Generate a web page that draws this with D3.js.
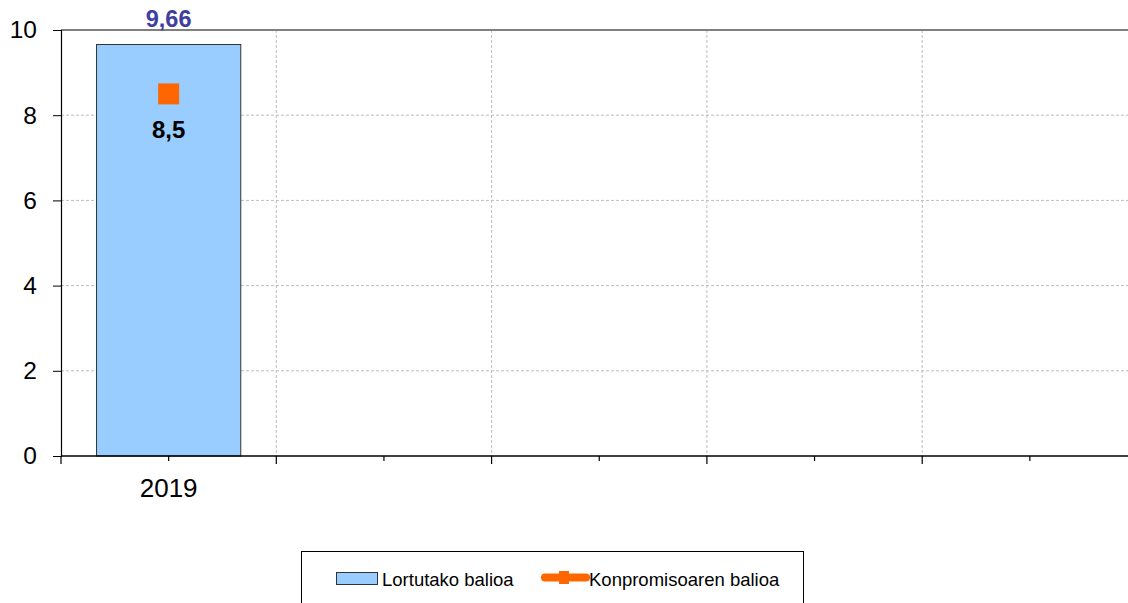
<!DOCTYPE html>
<html>
<head>
<meta charset="utf-8">
<script src="https://cdn.jsdelivr.net/npm/d3@7"></script>
<style>
  html, body { margin: 0; padding: 0; background: #fff; }
  svg { display: block; font-family: "Liberation Sans", Arial, sans-serif; }
</style>
</head>
<body>
<svg id="chart" width="1128" height="603"></svg>
<script>
// Category slots on the x axis (only the first one carries data)
const categories = ["2019", "c2", "c3", "c4", "c5"];
const categoryLabels = ["2019", "", "", "", ""];
// Achieved value (bars) and committed value (markers)
const achievedValues = [9.66];
const commitmentValues = [8.5];
const yTicks = [0, 2, 4, 6, 8, 10];
const legendLabels = ["Lortutako balioa", "Konpromisoaren balioa"];

const svg = d3.select("#chart");
const margin = { left: 61, top: 30 };
const plotBottom = 456;
const bandWidth = 215.3;
const plotRight = margin.left + bandWidth * categories.length;

const x = d3.scaleBand().domain(categories).range([margin.left, plotRight]).paddingInner(0).paddingOuter(0);
const y = d3.scaleLinear().domain([0, 10]).range([plotBottom, margin.top]);

// horizontal gridlines
svg.append("g").selectAll("line")
  .data(yTicks.filter(d => d > 0 && d < 10))
  .join("line")
  .attr("x1", margin.left).attr("x2", plotRight)
  .attr("y1", d => y(d)).attr("y2", d => y(d))
  .attr("stroke", "#bdbdbd").attr("stroke-width", 1).attr("stroke-dasharray", "3,2");

// vertical gridlines at category boundaries
svg.append("g").selectAll("line")
  .data(categories.slice(1))
  .join("line")
  .attr("x1", d => x(d)).attr("x2", d => x(d))
  .attr("y1", margin.top).attr("y2", plotBottom)
  .attr("stroke", "#bdbdbd").attr("stroke-width", 1).attr("stroke-dasharray", "3,2");

// top border of plot area
svg.append("line")
  .attr("x1", margin.left).attr("x2", plotRight)
  .attr("y1", y(10)).attr("y2", y(10))
  .attr("stroke", "#808080").attr("stroke-width", 2);

// bars
const barWidth = x.bandwidth() * 0.67;
svg.append("g").selectAll("rect")
  .data(achievedValues)
  .join("rect")
  .attr("x", (d, i) => x(categories[i]) + (x.bandwidth() - barWidth) / 2)
  .attr("y", d => y(d))
  .attr("width", barWidth)
  .attr("height", d => plotBottom - y(d))
  .attr("fill", "#99ccff")
  .attr("stroke", "#333").attr("stroke-width", 1);

// bar value labels
svg.append("g").selectAll("text")
  .data(achievedValues)
  .join("text")
  .attr("x", (d, i) => x(categories[i]) + x.bandwidth() / 2)
  .attr("y", d => y(d) - 17.5)
  .attr("text-anchor", "middle")
  .attr("font-size", 23.5).attr("font-weight", "bold")
  .attr("fill", "#3f3fa0")
  .text(d => d3.format(".2f")(d).replace(".", ","));

// commitment markers
const mSize = 21;
svg.append("g").selectAll("rect")
  .data(commitmentValues)
  .join("rect")
  .attr("x", (d, i) => x(categories[i]) + x.bandwidth() / 2 - mSize / 2)
  .attr("y", d => y(d) - mSize / 2)
  .attr("width", mSize).attr("height", mSize)
  .attr("fill", "#ff6600");

svg.append("g").selectAll("text")
  .data(commitmentValues)
  .join("text")
  .attr("x", (d, i) => x(categories[i]) + x.bandwidth() / 2)
  .attr("y", d => y(d) + 44)
  .attr("text-anchor", "middle")
  .attr("font-size", 24).attr("font-weight", "bold")
  .attr("fill", "#000")
  .text(d => String(d).replace(".", ","));

// y axis
const yAxis = svg.append("g")
  .attr("transform", `translate(${margin.left},0)`)
  .call(d3.axisLeft(y).tickValues(yTicks).tickSize(8).tickPadding(16).tickFormat(d3.format("d")));
yAxis.select(".domain").attr("stroke", "#000").attr("stroke-width", 1.2);
yAxis.selectAll(".tick line").attr("stroke", "#000");
yAxis.selectAll("text").attr("font-size", 24.5).attr("fill", "#000")
  .attr("font-family", "'Liberation Sans', Arial, sans-serif");

// x axis baseline
svg.append("line")
  .attr("x1", margin.left).attr("x2", plotRight)
  .attr("y1", plotBottom).attr("y2", plotBottom)
  .attr("stroke", "#000").attr("stroke-width", 1.5);

// long ticks at category boundaries, short ticks at centres
const boundaries = categories.map(c => x(c)).concat([plotRight]);
svg.append("g").selectAll("line")
  .data(boundaries)
  .join("line")
  .attr("x1", d => d).attr("x2", d => d)
  .attr("y1", plotBottom).attr("y2", plotBottom + 8)
  .attr("stroke", "#000").attr("stroke-width", 1.2);
svg.append("g").selectAll("line")
  .data(categories)
  .join("line")
  .attr("x1", d => x(d) + x.bandwidth() / 2).attr("x2", d => x(d) + x.bandwidth() / 2)
  .attr("y1", plotBottom).attr("y2", plotBottom + 5)
  .attr("stroke", "#000").attr("stroke-width", 1.2);

svg.append("g").selectAll("text")
  .data(categories)
  .join("text")
  .attr("x", d => x(d) + x.bandwidth() / 2)
  .attr("y", 497)
  .attr("text-anchor", "middle")
  .attr("font-size", 26).attr("fill", "#000")
  .text((d, i) => categoryLabels[i]);

// legend
const legend = svg.append("g");
legend.append("rect")
  .attr("x", 301.5).attr("y", 551.5).attr("width", 502).attr("height", 70)
  .attr("fill", "#fff").attr("stroke", "#000").attr("stroke-width", 1);
legend.append("rect")
  .attr("x", 336.5).attr("y", 572.5).attr("width", 41).attr("height", 12)
  .attr("fill", "#99ccff").attr("stroke", "#333").attr("stroke-width", 1);
legend.append("text")
  .attr("x", 382).attr("y", 586)
  .attr("font-size", 18.5).attr("fill", "#000")
  .text(legendLabels[0]);
legend.append("line")
  .attr("x1", 545).attr("x2", 586).attr("y1", 577.5).attr("y2", 577.5)
  .attr("stroke", "#ff6600").attr("stroke-width", 8).attr("stroke-linecap", "round");
legend.append("rect")
  .attr("x", 559).attr("y", 571).attr("width", 10).attr("height", 13)
  .attr("fill", "#ff6600");
legend.append("text")
  .attr("x", 589).attr("y", 586)
  .attr("font-size", 18.5).attr("fill", "#000")
  .text(legendLabels[1]);
</script>
</body>
</html>
